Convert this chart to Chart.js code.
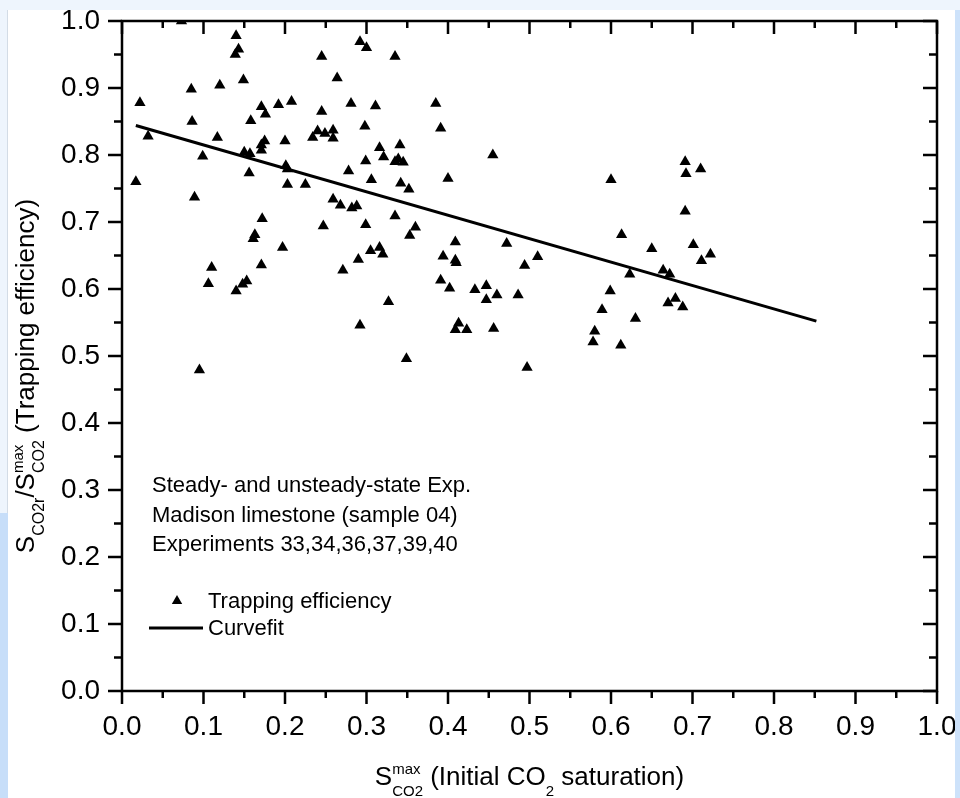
<!DOCTYPE html>
<html>
<head>
<meta charset="utf-8">
<script src="https://cdn.jsdelivr.net/npm/chart.js@4.4.1/dist/chart.umd.min.js"></script>
<style>
  body { margin: 0; background: #fff; width: 960px; height: 798px; overflow: hidden; position: relative; }
  .band { position: absolute; z-index: 2; }
  #chart { position: absolute; left: 0; top: 0; z-index: 1; }
</style>
</head>
<body>
<div class="band" style="left:0;top:0;width:960px;height:10px;background:#eef5fd"></div>
<div class="band" style="left:0;top:10px;width:7px;height:503px;background:#eef5fd;border-right:1px solid #d3dce6"></div>
<div class="band" style="left:0;top:513px;width:8px;height:285px;background:#c7def9"></div>
<div class="band" style="left:955px;top:10px;width:5px;height:788px;background:#cde2fa"></div>
<canvas id="chart" width="960" height="798"></canvas>
<script>
// Trapping efficiency points (x = initial CO2 saturation, y = trapping efficiency)
const xVals = [
  0.073, 0.140, 0.143, 0.139, 0.245, 0.149, 0.085, 0.120, 0.022, 0.171,
  0.176, 0.192, 0.208, 0.245, 0.086, 0.158, 0.032, 0.017, 0.117, 0.099,
  0.150, 0.157, 0.175, 0.171, 0.171, 0.200, 0.156, 0.201, 0.203, 0.203,
  0.225, 0.240, 0.234, 0.249, 0.259, 0.089, 0.247, 0.172, 0.163, 0.161,
  0.197, 0.110, 0.171, 0.106, 0.153, 0.148, 0.140, 0.095,
  0.292, 0.300, 0.335, 0.264, 0.281, 0.311, 0.385, 0.259, 0.298, 0.391,
  0.316, 0.341, 0.299, 0.321, 0.335, 0.339, 0.345, 0.455, 0.278, 0.306,
  0.342, 0.352, 0.400, 0.259, 0.268, 0.282, 0.288, 0.335, 0.299, 0.360,
  0.353, 0.409, 0.472, 0.510, 0.494, 0.305, 0.316, 0.320, 0.290, 0.271,
  0.394, 0.409, 0.410, 0.391, 0.402, 0.433, 0.447, 0.447, 0.460, 0.486,
  0.327, 0.292, 0.413, 0.409, 0.423, 0.456, 0.349, 0.497,
  0.623, 0.599, 0.589, 0.630, 0.580, 0.578, 0.612, 0.691, 0.710, 0.692,
  0.600, 0.691, 0.613, 0.650, 0.701, 0.722, 0.711, 0.664, 0.672, 0.679,
  0.670, 0.688
];
const yVals = [
  1.000, 0.978, 0.958, 0.950, 0.947, 0.912, 0.898, 0.904, 0.878, 0.872,
  0.861, 0.875, 0.880, 0.865, 0.850, 0.851, 0.828, 0.760, 0.826, 0.798,
  0.804, 0.802, 0.821, 0.815, 0.807, 0.821, 0.773, 0.784, 0.779, 0.756,
  0.756, 0.836, 0.826, 0.832, 0.837, 0.737, 0.694, 0.705, 0.681, 0.675,
  0.662, 0.632, 0.636, 0.608, 0.612, 0.607, 0.597, 0.479,
  0.969, 0.960, 0.947, 0.915, 0.877, 0.873, 0.877, 0.825, 0.843, 0.840,
  0.811, 0.815, 0.791, 0.797, 0.790, 0.794, 0.789, 0.800, 0.776, 0.763,
  0.758, 0.749, 0.765, 0.734, 0.725, 0.721, 0.724, 0.709, 0.696, 0.692,
  0.680, 0.670, 0.668, 0.648, 0.635, 0.657, 0.662, 0.652, 0.644, 0.628,
  0.649, 0.643, 0.639, 0.613, 0.601, 0.599, 0.605, 0.584, 0.591, 0.591,
  0.581, 0.546, 0.549, 0.539, 0.539, 0.541, 0.496, 0.483,
  0.622, 0.597, 0.569, 0.556, 0.537, 0.521, 0.516, 0.790, 0.779, 0.772,
  0.763, 0.716, 0.681, 0.660, 0.666, 0.652, 0.642, 0.628, 0.622, 0.586,
  0.579, 0.573
];

// Linear curve fit, two end points
const fitX = [0.017, 0.852];
const fitY = [0.844, 0.552];

const tickLabels = ['0.0', '0.1', '0.2', '0.3', '0.4', '0.5', '0.6', '0.7', '0.8', '0.9', '1.0'];
const seriesNames = ['Trapping efficiency', 'Curvefit'];
const noteLines = ['Steady- and unsteady-state Exp.', 'Madison limestone (sample 04)', 'Experiments 33,34,36,37,39,40'];

const FONT = '"Liberation Sans", Arial, sans-serif';

// text with sub/superscripts: plain parts {t, s, dy} or stacked {stack: [...]}
function partWidth(ctx, p) {
  if (p.stack) return Math.max(...p.stack.map(q => partWidth(ctx, q)));
  ctx.font = p.s + 'px ' + FONT;
  return ctx.measureText(p.t).width;
}
function drawParts(ctx, parts, x, y) {
  parts.forEach(p => {
    (p.stack || [p]).forEach(q => {
      ctx.font = q.s + 'px ' + FONT;
      ctx.fillText(q.t, x, y + (q.dy || 0));
    });
    x += partWidth(ctx, p);
  });
}
const yTitle = [
  {t: 'S', s: 26}, {t: 'CO2r', s: 16, dy: 10}, {t: '/', s: 26}, {t: 'S', s: 26},
  {stack: [{t: 'max', s: 15, dy: -11}, {t: 'CO2', s: 16, dy: 10}]},
  {t: ' (Trapping efficiency)', s: 26}
];
const xTitle = [
  {t: 'S', s: 26},
  {stack: [{t: 'max', s: 15, dy: -11}, {t: 'CO2', s: 15, dy: 11}]},
  {t: ' (Initial CO', s: 26}, {t: '2', s: 15, dy: 11}, {t: ' saturation)', s: 26}
];

function triangle(ctx, x, y, r) {
  ctx.beginPath();
  ctx.moveTo(x, y - r);
  ctx.lineTo(x + r * Math.cos(Math.PI / 6), y + r / 2);
  ctx.lineTo(x - r * Math.cos(Math.PI / 6), y + r / 2);
  ctx.closePath();
  ctx.fill();
}

const framePlugin = {
  id: 'frame',
  afterDraw(chart) {
    const ctx = chart.ctx;
    const a = chart.chartArea;
    const xs = chart.scales.x, ys = chart.scales.y;
    ctx.save();
    ctx.strokeStyle = '#000';
    ctx.fillStyle = '#000';
    ctx.lineWidth = 2.5;
    ctx.strokeRect(a.left, a.top, a.right - a.left, a.bottom - a.top);

    // major and minor ticks: out on left/bottom, in on top/right
    ctx.beginPath();
    for (let i = 0; i <= 20; i++) {
      const v = i * 0.05;
      const major = i % 2 === 0;
      const px = xs.getPixelForValue(v);
      const py = ys.getPixelForValue(v);
      ctx.moveTo(px, a.bottom); ctx.lineTo(px, a.bottom + (major ? 13 : 7));
      ctx.moveTo(px, a.top); ctx.lineTo(px, a.top + (major ? 13 : 7));
      ctx.moveTo(a.left, py); ctx.lineTo(a.left - (major ? 14 : 8), py);
      ctx.moveTo(a.right, py); ctx.lineTo(a.right - (major ? 14 : 8), py);
    }
    ctx.stroke();

    // axis titles
    ctx.textBaseline = 'alphabetic';
    ctx.textAlign = 'left';
    let w = xTitle.reduce((s, p) => s + partWidth(ctx, p), 0);
    drawParts(ctx, xTitle, (a.left + a.right) / 2 - w / 2, 785);

    w = yTitle.reduce((s, p) => s + partWidth(ctx, p), 0);
    ctx.save();
    ctx.translate(34, (a.top + a.bottom) / 2 + 20);
    ctx.rotate(-Math.PI / 2);
    drawParts(ctx, yTitle, -w / 2, 0);
    ctx.restore();

    // note text
    ctx.font = '22px ' + FONT;
    noteLines.forEach((line, i) => ctx.fillText(line, 152, 492 + i * 29.5));

    // legend
    triangle(ctx, 177, 601, 6);
    ctx.fillText(seriesNames[0], 208, 608);
    ctx.lineWidth = 3;
    ctx.beginPath();
    ctx.moveTo(149, 628); ctx.lineTo(203, 628);
    ctx.stroke();
    ctx.fillText(seriesNames[1], 208, 635);
    ctx.restore();
  }
};

// drop the label-overflow padding so layout.padding alone sets the plot box
function noOverflow(s) {
  s.paddingTop = 0; s.paddingBottom = 0; s.paddingLeft = 0; s.paddingRight = 0;
}

new Chart(document.getElementById('chart'), {
  type: 'scatter',
  data: {
    datasets: [
      {
        label: seriesNames[0],
        data: xVals.map((x, i) => ({x: x, y: yVals[i]})),
        pointStyle: 'triangle',
        pointRadius: 6.5,
        pointHoverRadius: 6.5,
        backgroundColor: '#000',
        borderColor: '#000',
        borderWidth: 0
      },
      {
        label: seriesNames[1],
        type: 'line',
        data: fitX.map((x, i) => ({x: x, y: fitY[i]})),
        borderColor: '#000',
        borderWidth: 3,
        pointRadius: 0,
        showLine: true,
        tension: 0
      }
    ]
  },
  options: {
    responsive: false,
    animation: false,
    layout: { padding: { left: 0, top: 21, right: 23, bottom: 0 } },
    plugins: { legend: { display: false }, tooltip: { enabled: false } },
    scales: {
      x: {
        type: 'linear', min: 0, max: 1,
        grid: { display: false, drawTicks: false },
        border: { display: false },
        ticks: {
          stepSize: 0.1, padding: 19, color: '#000',
          font: { family: FONT, size: 28 },
          callback: (v, i) => tickLabels[i]
        },
        afterFit: s => { s.height = 107; noOverflow(s); }
      },
      y: {
        type: 'linear', min: 0, max: 1,
        grid: { display: false, drawTicks: false },
        border: { display: false },
        ticks: {
          stepSize: 0.1, padding: 22, color: '#000',
          font: { family: FONT, size: 28 },
          callback: (v, i) => tickLabels[i]
        },
        afterFit: s => { s.width = 122; noOverflow(s); }
      }
    }
  },
  plugins: [framePlugin]
});
</script>
</body>
</html>
